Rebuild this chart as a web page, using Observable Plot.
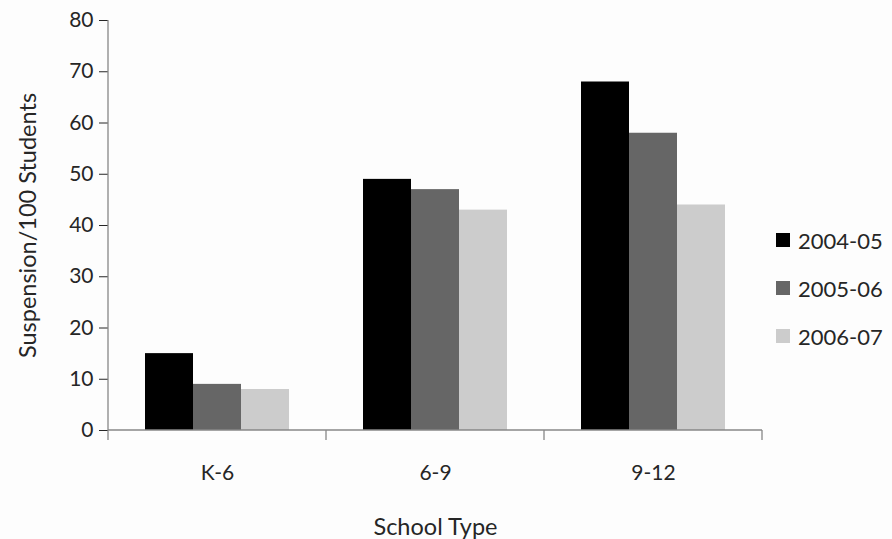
<!DOCTYPE html>
<html>
<head>
<meta charset="utf-8">
<script src="https://cdn.jsdelivr.net/npm/d3@7"></script>
<script src="https://cdn.jsdelivr.net/npm/@observablehq/plot@0.6"></script>
<style>
  html, body { margin: 0; padding: 0; background: #fdfdfd; }
  #wrap { position: relative; width: 892px; height: 539px; font-family: Lato, "Open Sans", sans-serif; color: #262626; }
  #wrap svg { position: absolute; left: 0; top: 0; }
  g[aria-label="y-axis tick"] { stroke: #878787; }
  g[aria-label="y-axis label"], g[aria-label="fx-axis label"] { font-size: 23.5px; }
  #legend { position: absolute; left: 776px; top: 216px; }
  .item { display: flex; align-items: center; height: 48px; font-size: 22px; }
  .sw { width: 14px; height: 14px; margin-right: 8px; }
</style>
</head>
<body>
<div id="wrap"><div id="legend"></div></div>
<script>
const categories = ["K-6", "6-9", "9-12"];
const years = ["2004-05", "2005-06", "2006-07"];
const colors = ["#000000", "#666666", "#cccccc"];
const values2004 = [15, 49, 68];
const values2005 = [9, 47, 58];
const values2006 = [8, 43, 44];
const yTicks = [0, 10, 20, 30, 40, 50, 60, 70, 80];
const xLabel = "School Type";
const yLabel = "Suspension/100 Students";

const series = [values2004, values2005, values2006];
const data = categories.flatMap((c, i) => years.map((yr, j) => ({school: c, year: yr, value: series[j][i]})));

const chart = Plot.plot({
  width: 892,
  height: 539,
  marginLeft: 107,
  marginRight: 130,
  marginTop: 20,
  marginBottom: 109,
  style: {fontFamily: "Lato, 'Open Sans', sans-serif", fontSize: "21px", color: "#262626", background: "transparent", overflow: "visible"},
  fx: {domain: categories, padding: 0, label: xLabel, axis: "bottom", tickSize: 0, tickPadding: 35, labelAnchor: "center", labelOffset: 104},
  x: {domain: years, paddingInner: 0, paddingOuter: 0.75, axis: null},
  y: {domain: [0, 80], ticks: yTicks, tickSize: 9, tickPadding: 6, label: yLabel, labelAnchor: "center", labelOffset: 89, labelArrow: "none"},
  color: {domain: years, range: colors},
  marks: [
    Plot.barY(data, {fx: "school", x: "year", y: "value", fill: "year"})
  ]
});

document.getElementById("wrap").appendChild(chart);

// axis lines and category boundary ticks, from the plot's own scales
const fx = chart.scale("fx");
const ys = chart.scale("y");
const y0 = ys.apply(0);
const yTop = ys.apply(d3.max(yTicks));
const bounds = categories.map(c => fx.apply(c)).concat([fx.apply(categories[categories.length - 1]) + fx.bandwidth]);
const g = d3.select(chart).append("g").attr("stroke", "#878787").attr("stroke-width", 1.3).attr("fill", "none");
g.append("line").attr("x1", bounds[0]).attr("x2", bounds[0]).attr("y1", yTop).attr("y2", y0);
g.append("line").attr("x1", bounds[0]).attr("x2", bounds[bounds.length - 1]).attr("y1", y0).attr("y2", y0);
bounds.forEach(b => g.append("line").attr("x1", b).attr("x2", b).attr("y1", y0).attr("y2", y0 + 10));

// legend
const legend = d3.select("#legend");
years.forEach((yr, j) => {
  const it = legend.append("div").attr("class", "item");
  it.append("div").attr("class", "sw").style("background", colors[j]);
  it.append("span").text(yr);
});
</script>
</body>
</html>
